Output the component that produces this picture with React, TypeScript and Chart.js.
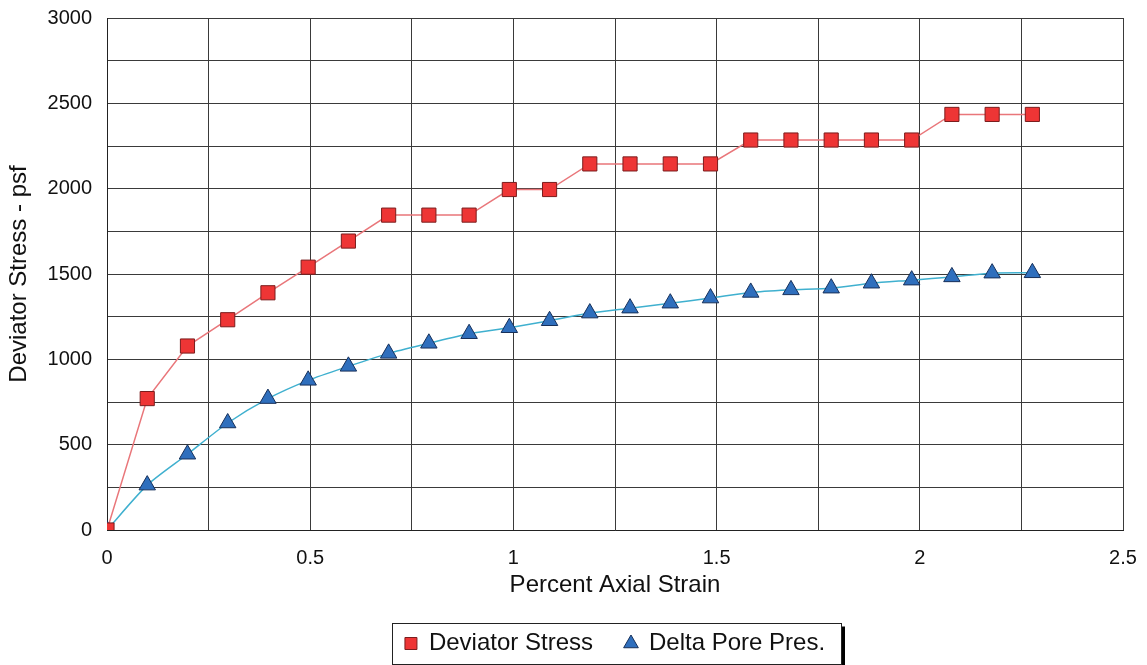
import React, { useEffect, useRef } from "react";
import { Chart, registerables } from "chart.js";

Chart.register(...registerables);

const strain = [0, 0.099, 0.198, 0.297, 0.396, 0.495, 0.594, 0.693, 0.792, 0.891, 0.99, 1.089, 1.188, 1.287, 1.386, 1.485, 1.584, 1.683, 1.782, 1.881, 1.98, 2.079, 2.178, 2.277];
const deviatorStress = [0, 770, 1078, 1232, 1390, 1540, 1693, 1845, 1845, 1845, 1995, 1995, 2145, 2145, 2145, 2145, 2285, 2285, 2285, 2285, 2285, 2435, 2435, 2435];
const deltaPorePres = [0, 263, 444, 627, 770, 877, 959, 1035, 1094, 1150, 1185, 1226, 1271, 1300, 1329, 1359, 1392, 1407, 1417, 1446, 1464, 1483, 1505, 1507];

const seriesNames = ["Deviator Stress", "Delta Pore Pres."];
const xTitle = "Percent Axial Strain";
const yTitle = "Deviator Stress - psf";

const FONT = "'Liberation Sans', Arial, sans-serif";

const legendBoxPlugin = {
  id: "legendBox",
  afterDraw(chart: any) {
    const lg = chart.legend;
    if (!lg || !lg.legendHitBoxes || !lg.legendHitBoxes.length) return;
    const hb = lg.legendHitBoxes;
    const left = Math.min(...hb.map((h: any) => h.left)) - 13;
    const right = Math.max(...hb.map((h: any) => h.left + h.width)) + 16;
    const top = hb[0].top - 9;
    const bottom = top + 41;
    const ctx = chart.ctx;
    ctx.save();
    ctx.fillStyle = "#000";
    ctx.fillRect(Math.round(right) + 1, top + 4, 3, bottom - top);
    ctx.strokeStyle = "#222";
    ctx.lineWidth = 1;
    ctx.strokeRect(Math.round(left) + 0.5, Math.round(top) + 0.5, Math.round(right - left), Math.round(bottom - top));
    ctx.restore();
  },
};

export default function App() {
  const canvasRef = useRef<HTMLCanvasElement | null>(null);

  useEffect(() => {
    const canvas = canvasRef.current;
    if (!canvas) return;
    const chart = new Chart(canvas, {
      type: "line",
      data: {
        datasets: [
          {
            label: seriesNames[0],
            data: strain.map((x, i) => ({ x, y: deviatorStress[i] })),
            borderColor: "#e9767a",
            backgroundColor: "#ee3535",
            borderWidth: 1.5,
            tension: 0,
            pointStyle: "rect",
            pointRadius: 10,
            pointBackgroundColor: "#ee3535",
            pointBorderColor: "#7a1d1d",
            pointBorderWidth: 1,
          },
          {
            label: seriesNames[1],
            data: strain.map((x, i) => ({ x, y: deltaPorePres[i] })),
            borderColor: "#3fb0cf",
            backgroundColor: "#2f6fbd",
            borderWidth: 1.5,
            tension: 0.25,
            pointStyle: "triangle",
            pointRadius: 9.5,
            pointBackgroundColor: "#2f6fbd",
            pointBorderColor: "#17305a",
            pointBorderWidth: 1,
          },
        ],
      },
      options: {
        responsive: false,
        animation: false,
        layout: { padding: { top: 18, right: 24, left: 0, bottom: 10.5 } },
        plugins: {
          tooltip: { enabled: false },
          legend: {
            position: "bottom",
            fullSize: false,
            maxHeight: 55,
            labels: {
              usePointStyle: true,
              boxWidth: 12,
              boxHeight: 12,
              padding: 32,
              color: "#111",
              font: { family: FONT, size: 24 },
              generateLabels: (c: any) =>
                Chart.defaults.plugins.legend.labels.generateLabels(c).map((l: any, i: number) => ({
                  ...l,
                  strokeStyle: i === 0 ? "#7a1d1d" : "#17305a",
                  lineWidth: 1,
                })),
            },
          },
        },
        scales: {
          x: {
            type: "linear",
            min: 0,
            max: 2.5,
            afterFit: (s: any) => {
              s.height = 69.5;
            },
            ticks: {
              stepSize: 0.25,
              autoSkip: false,
              maxRotation: 0,
              padding: 0,
              color: "#111",
              font: { family: FONT, size: 20 },
              callback: (v: any) => {
                const n = Number(v);
                return Math.abs(n * 2 - Math.round(n * 2)) < 1e-6 ? String(n) : "";
              },
            },
            grid: { color: "#3a3a3a", lineWidth: 1, drawTicks: true, tickLength: 16, tickColor: "rgba(0,0,0,0)" },
            border: { color: "#222", width: 1 },
            title: {
              display: true,
              text: xTitle,
              color: "#111",
              font: { family: FONT, size: 24 },
              padding: { top: 0, bottom: 0 },
            },
          },
          y: {
            type: "linear",
            min: 0,
            max: 3000,
            afterFit: (s: any) => {
              s.width = 107;
            },
            ticks: {
              stepSize: 250,
              autoSkip: false,
              padding: 0,
              color: "#111",
              font: { family: FONT, size: 20 },
              callback: (v: any) => {
                const n = Number(v);
                return n % 500 === 0 ? String(n) : "";
              },
            },
            grid: { color: "#3a3a3a", lineWidth: 1, drawTicks: true, tickLength: 15, tickColor: "rgba(0,0,0,0)" },
            border: { color: "#222", width: 1 },
            title: {
              display: true,
              text: yTitle,
              color: "#111",
              font: { family: FONT, size: 24 },
              padding: { top: 5, bottom: 0 },
            },
          },
        },
      },
      plugins: [legendBoxPlugin],
    });
    return () => chart.destroy();
  }, []);

  return (
    <div style={{ position: "fixed", left: 0, top: 0, width: 1147, height: 665, background: "#fff" }}>
      <canvas ref={canvasRef} width={1147} height={665} style={{ display: "block" }} />
    </div>
  );
}
